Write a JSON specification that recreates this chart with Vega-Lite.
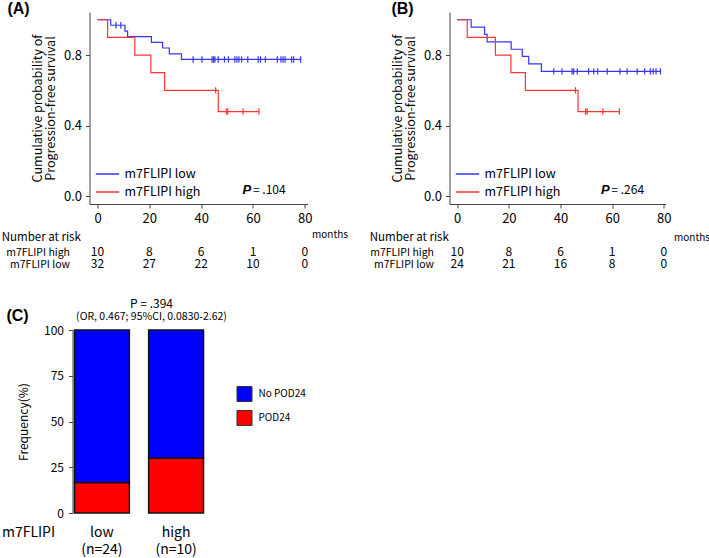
{
  "$schema": "https://vega.github.io/schema/vega-lite/v6.json",
  "background": "white",
  "padding": {"left": 0.5, "top": 1, "right": 0, "bottom": 0},
  "config": {
    "view": {"stroke": null},
    "font": "Noto Sans CJK JP",
    "axis": {"grid": false, "domainColor": "#444", "tickColor": "#444", "labelColor": "black", "titleColor": "black", "labelFont": "Noto Sans CJK JP", "titleFont": "Noto Sans CJK JP", "titleFontWeight": "normal", "labelOverlap": false},
    "legend": {"labelFont": "Noto Sans CJK JP", "labelColor": "black"},
    "title": {"color": "black", "subtitleColor": "black", "font": "Noto Sans CJK JP", "subtitleFont": "Noto Sans CJK JP"}
  },
  "datasets": {
    "km": [
      {"panel": "A", "group": "m7FLIPI low", "t": 0, "s": 1.0, "kind": "start"},
      {"panel": "A", "group": "m7FLIPI low", "t": 5.1, "s": 0.969, "kind": "event"},
      {"panel": "A", "group": "m7FLIPI low", "t": 7.1, "s": 0.969, "kind": "censor"},
      {"panel": "A", "group": "m7FLIPI low", "t": 9.0, "s": 0.969, "kind": "censor"},
      {"panel": "A", "group": "m7FLIPI low", "t": 10.6, "s": 0.936, "kind": "event"},
      {"panel": "A", "group": "m7FLIPI low", "t": 11.6, "s": 0.904, "kind": "event"},
      {"panel": "A", "group": "m7FLIPI low", "t": 20.8, "s": 0.872, "kind": "event"},
      {"panel": "A", "group": "m7FLIPI low", "t": 25.1, "s": 0.840, "kind": "event"},
      {"panel": "A", "group": "m7FLIPI low", "t": 27.7, "s": 0.807, "kind": "event"},
      {"panel": "A", "group": "m7FLIPI low", "t": 32.4, "s": 0.775, "kind": "event"},
      {"panel": "A", "group": "m7FLIPI low", "t": 36.9, "s": 0.775, "kind": "censor"},
      {"panel": "A", "group": "m7FLIPI low", "t": 40.3, "s": 0.775, "kind": "censor"},
      {"panel": "A", "group": "m7FLIPI low", "t": 44.2, "s": 0.775, "kind": "censor"},
      {"panel": "A", "group": "m7FLIPI low", "t": 44.8, "s": 0.775, "kind": "censor"},
      {"panel": "A", "group": "m7FLIPI low", "t": 45.3, "s": 0.775, "kind": "censor"},
      {"panel": "A", "group": "m7FLIPI low", "t": 46.6, "s": 0.775, "kind": "censor"},
      {"panel": "A", "group": "m7FLIPI low", "t": 49.0, "s": 0.775, "kind": "censor"},
      {"panel": "A", "group": "m7FLIPI low", "t": 50.5, "s": 0.775, "kind": "censor"},
      {"panel": "A", "group": "m7FLIPI low", "t": 53.0, "s": 0.775, "kind": "censor"},
      {"panel": "A", "group": "m7FLIPI low", "t": 53.8, "s": 0.775, "kind": "censor"},
      {"panel": "A", "group": "m7FLIPI low", "t": 54.6, "s": 0.775, "kind": "censor"},
      {"panel": "A", "group": "m7FLIPI low", "t": 55.6, "s": 0.775, "kind": "censor"},
      {"panel": "A", "group": "m7FLIPI low", "t": 58.0, "s": 0.775, "kind": "censor"},
      {"panel": "A", "group": "m7FLIPI low", "t": 62.0, "s": 0.775, "kind": "censor"},
      {"panel": "A", "group": "m7FLIPI low", "t": 62.9, "s": 0.775, "kind": "censor"},
      {"panel": "A", "group": "m7FLIPI low", "t": 64.8, "s": 0.775, "kind": "censor"},
      {"panel": "A", "group": "m7FLIPI low", "t": 69.4, "s": 0.775, "kind": "censor"},
      {"panel": "A", "group": "m7FLIPI low", "t": 70.8, "s": 0.775, "kind": "censor"},
      {"panel": "A", "group": "m7FLIPI low", "t": 71.6, "s": 0.775, "kind": "censor"},
      {"panel": "A", "group": "m7FLIPI low", "t": 72.4, "s": 0.775, "kind": "censor"},
      {"panel": "A", "group": "m7FLIPI low", "t": 74.9, "s": 0.775, "kind": "censor"},
      {"panel": "A", "group": "m7FLIPI low", "t": 75.7, "s": 0.775, "kind": "censor"},
      {"panel": "A", "group": "m7FLIPI low", "t": 78.4, "s": 0.775, "kind": "censor"},
      {"panel": "A", "group": "m7FLIPI high", "t": 0, "s": 1.0, "kind": "start"},
      {"panel": "A", "group": "m7FLIPI high", "t": 3.9, "s": 0.9, "kind": "event"},
      {"panel": "A", "group": "m7FLIPI high", "t": 14.4, "s": 0.8, "kind": "event"},
      {"panel": "A", "group": "m7FLIPI high", "t": 20.6, "s": 0.7, "kind": "event"},
      {"panel": "A", "group": "m7FLIPI high", "t": 25.9, "s": 0.6, "kind": "event"},
      {"panel": "A", "group": "m7FLIPI high", "t": 45.6, "s": 0.6, "kind": "censor"},
      {"panel": "A", "group": "m7FLIPI high", "t": 46.6, "s": 0.48, "kind": "event"},
      {"panel": "A", "group": "m7FLIPI high", "t": 49.8, "s": 0.48, "kind": "censor"},
      {"panel": "A", "group": "m7FLIPI high", "t": 50.3, "s": 0.48, "kind": "censor"},
      {"panel": "A", "group": "m7FLIPI high", "t": 56.2, "s": 0.48, "kind": "censor"},
      {"panel": "A", "group": "m7FLIPI high", "t": 62.3, "s": 0.48, "kind": "censor"},
      {"panel": "B", "group": "m7FLIPI low", "t": 0, "s": 1.0, "kind": "start"},
      {"panel": "B", "group": "m7FLIPI low", "t": 5.4, "s": 0.958, "kind": "event"},
      {"panel": "B", "group": "m7FLIPI low", "t": 10.6, "s": 0.917, "kind": "event"},
      {"panel": "B", "group": "m7FLIPI low", "t": 11.6, "s": 0.875, "kind": "event"},
      {"panel": "B", "group": "m7FLIPI low", "t": 20.9, "s": 0.833, "kind": "event"},
      {"panel": "B", "group": "m7FLIPI low", "t": 25.2, "s": 0.792, "kind": "event"},
      {"panel": "B", "group": "m7FLIPI low", "t": 27.7, "s": 0.750, "kind": "event"},
      {"panel": "B", "group": "m7FLIPI low", "t": 32.6, "s": 0.708, "kind": "event"},
      {"panel": "B", "group": "m7FLIPI low", "t": 37.4, "s": 0.708, "kind": "censor"},
      {"panel": "B", "group": "m7FLIPI low", "t": 40.6, "s": 0.708, "kind": "censor"},
      {"panel": "B", "group": "m7FLIPI low", "t": 44.5, "s": 0.708, "kind": "censor"},
      {"panel": "B", "group": "m7FLIPI low", "t": 45.1, "s": 0.708, "kind": "censor"},
      {"panel": "B", "group": "m7FLIPI low", "t": 46.5, "s": 0.708, "kind": "censor"},
      {"panel": "B", "group": "m7FLIPI low", "t": 50.9, "s": 0.708, "kind": "censor"},
      {"panel": "B", "group": "m7FLIPI low", "t": 52.9, "s": 0.708, "kind": "censor"},
      {"panel": "B", "group": "m7FLIPI low", "t": 54.4, "s": 0.708, "kind": "censor"},
      {"panel": "B", "group": "m7FLIPI low", "t": 58.1, "s": 0.708, "kind": "censor"},
      {"panel": "B", "group": "m7FLIPI low", "t": 63.0, "s": 0.708, "kind": "censor"},
      {"panel": "B", "group": "m7FLIPI low", "t": 65.8, "s": 0.708, "kind": "censor"},
      {"panel": "B", "group": "m7FLIPI low", "t": 69.7, "s": 0.708, "kind": "censor"},
      {"panel": "B", "group": "m7FLIPI low", "t": 72.6, "s": 0.708, "kind": "censor"},
      {"panel": "B", "group": "m7FLIPI low", "t": 74.8, "s": 0.708, "kind": "censor"},
      {"panel": "B", "group": "m7FLIPI low", "t": 75.9, "s": 0.708, "kind": "censor"},
      {"panel": "B", "group": "m7FLIPI low", "t": 77.0, "s": 0.708, "kind": "censor"},
      {"panel": "B", "group": "m7FLIPI low", "t": 78.7, "s": 0.708, "kind": "censor"},
      {"panel": "B", "group": "m7FLIPI high", "t": 0, "s": 1.0, "kind": "start"},
      {"panel": "B", "group": "m7FLIPI high", "t": 3.9, "s": 0.9, "kind": "event"},
      {"panel": "B", "group": "m7FLIPI high", "t": 14.8, "s": 0.8, "kind": "event"},
      {"panel": "B", "group": "m7FLIPI high", "t": 20.8, "s": 0.7, "kind": "event"},
      {"panel": "B", "group": "m7FLIPI high", "t": 26.4, "s": 0.6, "kind": "event"},
      {"panel": "B", "group": "m7FLIPI high", "t": 45.8, "s": 0.6, "kind": "censor"},
      {"panel": "B", "group": "m7FLIPI high", "t": 46.8, "s": 0.48, "kind": "event"},
      {"panel": "B", "group": "m7FLIPI high", "t": 49.7, "s": 0.48, "kind": "censor"},
      {"panel": "B", "group": "m7FLIPI high", "t": 50.3, "s": 0.48, "kind": "censor"},
      {"panel": "B", "group": "m7FLIPI high", "t": 56.4, "s": 0.48, "kind": "censor"},
      {"panel": "B", "group": "m7FLIPI high", "t": 62.8, "s": 0.48, "kind": "censor"}
    ],
    "risk": [
      {"panel": "A", "group": "m7FLIPI high", "t": 0, "n": 10},
      {"panel": "A", "group": "m7FLIPI high", "t": 20, "n": 8},
      {"panel": "A", "group": "m7FLIPI high", "t": 40, "n": 6},
      {"panel": "A", "group": "m7FLIPI high", "t": 60, "n": 1},
      {"panel": "A", "group": "m7FLIPI high", "t": 80, "n": 0},
      {"panel": "A", "group": "m7FLIPI low", "t": 0, "n": 32},
      {"panel": "A", "group": "m7FLIPI low", "t": 20, "n": 27},
      {"panel": "A", "group": "m7FLIPI low", "t": 40, "n": 22},
      {"panel": "A", "group": "m7FLIPI low", "t": 60, "n": 10},
      {"panel": "A", "group": "m7FLIPI low", "t": 80, "n": 0},
      {"panel": "B", "group": "m7FLIPI high", "t": 0, "n": 10},
      {"panel": "B", "group": "m7FLIPI high", "t": 20, "n": 8},
      {"panel": "B", "group": "m7FLIPI high", "t": 40, "n": 6},
      {"panel": "B", "group": "m7FLIPI high", "t": 60, "n": 1},
      {"panel": "B", "group": "m7FLIPI high", "t": 80, "n": 0},
      {"panel": "B", "group": "m7FLIPI low", "t": 0, "n": 24},
      {"panel": "B", "group": "m7FLIPI low", "t": 20, "n": 21},
      {"panel": "B", "group": "m7FLIPI low", "t": 40, "n": 16},
      {"panel": "B", "group": "m7FLIPI low", "t": 60, "n": 8},
      {"panel": "B", "group": "m7FLIPI low", "t": 80, "n": 0}
    ],
    "pod": [
      {"m7FLIPI": "low", "outcome": "POD24", "pct": 16.7},
      {"m7FLIPI": "low", "outcome": "No POD24", "pct": 83.3},
      {"m7FLIPI": "high", "outcome": "POD24", "pct": 30},
      {"m7FLIPI": "high", "outcome": "No POD24", "pct": 70}
    ]
  },
  "columns": 1,
  "align": "none",
  "spacing": 27,
  "resolve": {"scale": {"color": "independent"}, "legend": {"color": "independent"}},
  "concat": [
    {
      "spacing": 22,
      "resolve": {"scale": {"color": "independent"}, "legend": {"color": "independent"}},
      "hconcat": [
        {
          "spacing": 42,
          "bounds": "flush",
          "vconcat": [
            {
              "width": 218, "height": 192,
              "title": {"text": "(A)", "anchor": "start", "frame": "bounds", "font": "Liberation Sans", "fontSize": 16, "fontWeight": "bold", "offset": -5, "dx": -24},
              "layer": [
                {
                  "data": {"name": "km"},
                  "transform": [{"filter": "datum.panel == 'A'"}],
                  "mark": {"type": "line", "interpolate": "step-after", "strokeWidth": 1.2},
                  "encoding": {
                    "x": {"field": "t", "type": "quantitative", "scale": {"domain": [-3.09, 81.04], "nice": false, "zero": false},
                      "axis": {"values": [0, 20, 40, 60, 80], "labelOverlap": false, "labelFontSize": 13, "tickSize": 4, "labelPadding": 4, "title": "months", "titleFontSize": 10, "titleX": 240, "titleY": 30, "titleAlign": "center", "titleBaseline": "middle"}},
                    "y": {"field": "s", "type": "quantitative", "scale": {"domain": [-0.044, 1.044], "nice": false, "zero": false},
                      "axis": {"values": [0, 0.2, 0.4, 0.6, 0.8, 1.0], "labelOverlap": false, "format": ".1f", "labelFontSize": 13, "tickSize": 4, "labelPadding": 4, "title": ["Cumulative probability of", "Progression-free survival"], "titleFontSize": 12.5, "titleLineHeight": 13, "titlePadding": 6}},
                    "color": {"field": "group", "type": "nominal", "scale": {"domain": ["m7FLIPI low", "m7FLIPI high"], "range": ["#3535ff", "#ff3535"]},
                      "legend": {"title": null, "orient": "none", "legendX": 8, "legendY": 152, "symbolType": "M-1.3,0H1.3", "symbolSize": 324, "symbolStrokeWidth": 1.5, "labelFontSize": 12.5, "labelOffset": 7, "rowPadding": 1}}
                  }
                },
                {
                  "data": {"name": "km"},
                  "transform": [{"filter": "datum.panel == 'A' && datum.kind == 'censor'"}],
                  "mark": {"type": "point", "shape": "M0,-1V1", "filled": false, "size": 40, "strokeWidth": 1.2, "opacity": 1},
                  "encoding": {
                    "x": {"field": "t", "type": "quantitative"},
                    "y": {"field": "s", "type": "quantitative"},
                    "color": {"field": "group", "type": "nominal"}
                  }
                },
                {
                  "data": {"values": [{"label": "P"}]},
                  "mark": {"type": "text", "align": "left", "baseline": "middle", "fontSize": 13, "fontStyle": "italic", "fontWeight": "bold", "font": "Liberation Sans"},
                  "encoding": {"x": {"datum": 56.0, "type": "quantitative"}, "y": {"datum": 0.036, "type": "quantitative"}, "text": {"field": "label"}}
                },
                {
                  "data": {"values": [{"label": "= .104"}]},
                  "mark": {"type": "text", "align": "left", "baseline": "middle", "fontSize": 12},
                  "encoding": {"x": {"datum": 60.0, "type": "quantitative"}, "y": {"datum": 0.036, "type": "quantitative"}, "text": {"field": "label"}}
                }
              ]
            },
            {
              "width": 218, "height": 24,
              "data": {"name": "risk"},
              "transform": [{"filter": "datum.panel == 'A'"}],
              "title": {"text": "Number at risk", "anchor": "start", "frame": "bounds", "fontSize": 11.5, "fontWeight": "normal", "offset": 3, "dx": -4},
              "mark": {"type": "text", "fontSize": 12},
              "encoding": {
                "x": {"field": "t", "type": "quantitative", "scale": {"domain": [-3.09, 81.04], "nice": false, "zero": false}, "axis": null},
                "y": {"field": "group", "type": "nominal", "sort": ["m7FLIPI high", "m7FLIPI low"], "scale": {"type": "point", "padding": 0.5},
                  "axis": {"title": null, "domain": false, "ticks": false, "labelPadding": 20, "labelFontSize": 10.5}},
                "text": {"field": "n", "type": "quantitative"}
              }
            }
          ]
        },
        {
          "spacing": 42,
          "bounds": "flush",
          "vconcat": [
            {
              "width": 216, "height": 192,
              "title": {"text": "(B)", "anchor": "start", "frame": "bounds", "font": "Liberation Sans", "fontSize": 16, "fontWeight": "bold", "offset": -5, "dx": 0},
              "layer": [
                {
                  "data": {"name": "km"},
                  "transform": [{"filter": "datum.panel == 'B'"}],
                  "mark": {"type": "line", "interpolate": "step-after", "strokeWidth": 1.2},
                  "encoding": {
                    "x": {"field": "t", "type": "quantitative", "scale": {"domain": [-2.98, 80.66], "nice": false, "zero": false},
                      "axis": {"values": [0, 20, 40, 60, 80], "labelOverlap": false, "labelFontSize": 13, "tickSize": 4, "labelPadding": 4, "title": "months", "titleFontSize": 10, "titleX": 242, "titleY": 33, "titleAlign": "center", "titleBaseline": "middle"}},
                    "y": {"field": "s", "type": "quantitative", "scale": {"domain": [-0.044, 1.044], "nice": false, "zero": false},
                      "axis": {"values": [0, 0.2, 0.4, 0.6, 0.8, 1.0], "labelOverlap": false, "format": ".1f", "labelFontSize": 13, "tickSize": 4, "labelPadding": 4, "title": ["Cumulative probability of", "Progression-free survival"], "titleFontSize": 12.5, "titleLineHeight": 13, "titlePadding": 6}},
                    "color": {"field": "group", "type": "nominal", "scale": {"domain": ["m7FLIPI low", "m7FLIPI high"], "range": ["#3535ff", "#ff3535"]},
                      "legend": {"title": null, "orient": "none", "legendX": 8, "legendY": 152, "symbolType": "M-1.3,0H1.3", "symbolSize": 324, "symbolStrokeWidth": 1.5, "labelFontSize": 12.5, "labelOffset": 7, "rowPadding": 1}}
                  }
                },
                {
                  "data": {"name": "km"},
                  "transform": [{"filter": "datum.panel == 'B' && datum.kind == 'censor'"}],
                  "mark": {"type": "point", "shape": "M0,-1V1", "filled": false, "size": 40, "strokeWidth": 1.2, "opacity": 1},
                  "encoding": {
                    "x": {"field": "t", "type": "quantitative"},
                    "y": {"field": "s", "type": "quantitative"},
                    "color": {"field": "group", "type": "nominal"}
                  }
                },
                {
                  "data": {"values": [{"label": "P"}]},
                  "mark": {"type": "text", "align": "left", "baseline": "middle", "fontSize": 13, "fontStyle": "italic", "fontWeight": "bold", "font": "Liberation Sans"},
                  "encoding": {"x": {"datum": 55.7, "type": "quantitative"}, "y": {"datum": 0.036, "type": "quantitative"}, "text": {"field": "label"}}
                },
                {
                  "data": {"values": [{"label": "= .264"}]},
                  "mark": {"type": "text", "align": "left", "baseline": "middle", "fontSize": 12},
                  "encoding": {"x": {"datum": 59.7, "type": "quantitative"}, "y": {"datum": 0.036, "type": "quantitative"}, "text": {"field": "label"}}
                }
              ]
            },
            {
              "width": 216, "height": 24,
              "data": {"name": "risk"},
              "transform": [{"filter": "datum.panel == 'B'"}],
              "title": {"text": "Number at risk", "anchor": "start", "frame": "bounds", "fontSize": 11.5, "fontWeight": "normal", "offset": 3, "dx": 0},
              "mark": {"type": "text", "fontSize": 12},
              "encoding": {
                "x": {"field": "t", "type": "quantitative", "scale": {"domain": [-2.98, 80.66], "nice": false, "zero": false}, "axis": null},
                "y": {"field": "group", "type": "nominal", "sort": ["m7FLIPI high", "m7FLIPI low"], "scale": {"type": "point", "padding": 0.5},
                  "axis": {"title": null, "domain": false, "ticks": false, "labelPadding": 16, "labelFontSize": 10.5}},
                "text": {"field": "n", "type": "quantitative"}
              }
            }
          ]
        }
      ]
    },
    {
      "title": {"text": "(C)", "anchor": "start", "frame": "bounds", "font": "Liberation Sans", "fontSize": 16, "fontWeight": "bold", "offset": -26, "dx": 5},
      "resolve": {"scale": {"color": "independent"}, "legend": {"color": "independent"}},
      "hconcat": [
        {
          "width": 116, "height": 183,
          "data": {"name": "pod"},
          "title": {"text": "P = .394", "subtitle": "(OR, 0.467; 95%CI, 0.0830-2.62)", "anchor": "middle", "frame": "group", "fontSize": 12, "fontWeight": "normal", "subtitleFontSize": 10.5, "subtitlePadding": 1, "offset": 1, "dx": 4},
          "mark": {"type": "bar", "stroke": "#111", "strokeWidth": 1.5},
          "encoding": {
            "x": {"field": "m7FLIPI", "type": "nominal", "sort": ["low", "high"], "scale": {"range": [-17, 116], "paddingInner": 0.26, "paddingOuter": 0.027},
              "axis": {"labelAngle": 0, "labelExpr": "datum.value == 'low' ? ['low', '(n=24)'] : ['high', '(n=10)']", "labelFontSize": 14, "labelLineHeight": 17, "labelBaseline": "top", "labelPadding": 12.5, "domain": false, "ticks": false,
                "title": "m7FLIPI", "titleFontSize": 14, "titleX": -61.5, "titleY": 19, "titleAlign": "center", "titleBaseline": "middle", "titleAngle": 0}},
            "y": {"field": "pct", "type": "quantitative", "stack": "zero", "scale": {"domain": [0, 100], "nice": false},
              "axis": {"values": [0, 25, 50, 75, 100], "offset": 17, "labelOverlap": false, "title": "Frequency(%)", "titleFontSize": 12, "labelFontSize": 12, "tickSize": 4, "labelPadding": 5, "titlePadding": 13}},
            "color": {"field": "outcome", "type": "nominal", "scale": {"domain": ["No POD24", "POD24"], "range": ["#0000ff", "#ff0000"]},
              "legend": {"title": null, "orient": "none", "legendX": 147, "legendY": 56, "symbolType": "square", "symbolSize": 225, "symbolStrokeColor": "#333", "symbolStrokeWidth": 1, "labelFontSize": 10, "labelOffset": 6, "rowPadding": 4}},
            "order": {"field": "outcome", "sort": "descending"}
          }
        }
      ]
    }
  ]
}
